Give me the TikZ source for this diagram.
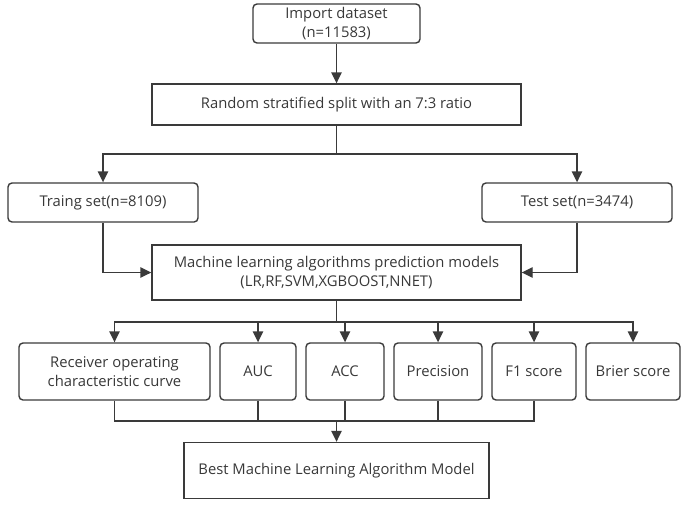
\documentclass[tikz,border=0pt]{standalone}
\usepackage{fontspec}
\setmainfont{Open Sans}
\usepackage{xcolor}
\usetikzlibrary{arrows.meta}
\usetikzlibrary{positioning}
\definecolor{LineGray}{HTML}{3A3A3A}
\definecolor{TextGray}{HTML}{383838}
\tikzset{
  rbox/.style={draw=LineGray,line width=1.4pt,rounded corners=4pt,
    inner sep=0pt,align=center,text=TextGray,
    font=\fontsize{14.8}{18.5}\selectfont},
  sbox/.style={rbox,rounded corners=0pt},
  link/.style={draw=LineGray,line width=1.4pt},
  arr/.style={link,-{Triangle[length=11pt,width=10.5pt]}}
}

\begin{document}
\begin{tikzpicture}[x=1pt,y=-1pt]
  \useasboundingbox (0,0) rectangle (685,507);

  % top part
  \node[rbox,minimum width=167pt,minimum height=39pt] (import) at (336.5,23.5)
    {Import dataset\\(n=11583)};
  \node[sbox,minimum width=369pt,minimum height=41pt] (split) at (336.5,104.5)
    {Random stratified split with an 7:3 ratio};
  \node[rbox,minimum width=190pt,minimum height=39pt] (train) at (103,202.5)
    {Traing set(n=8109)};
  \node[rbox,minimum width=190pt,minimum height=39pt] (test) at (577,202.5)
    {Test set(n=3474)};
  \node[sbox,minimum width=369pt,minimum height=55pt] (models) at (336.5,272.5)
    {Machine learning algorithms prediction models\\(LR,RF,SVM,XGBOOST,NNET)};

  % metrics
  \node[rbox,minimum width=191pt,minimum height=57pt] (roc) at (114.5,371.5)
    {Receiver operating\\characteristic curve};
  \node[rbox,minimum width=76pt,minimum height=57pt] (auc) at (258,371.5) {AUC};
  \node[rbox,minimum width=78pt,minimum height=57pt] (acc) at (345,371.5) {ACC};
  \node[rbox,minimum width=88pt,minimum height=57pt] (prec) at (438,371.5) {Precision};
  \node[rbox,minimum width=84pt,minimum height=57pt] (fone) at (534,371.5) {F1 score};
  \node[rbox,minimum width=94pt,minimum height=57pt] (brier) at (633,371.5) {Brier score};

  \node[sbox,minimum width=305pt,minimum height=56pt] (best) at (336.5,470.5)
    {Best Machine Learning Algorithm Model};

  % connectors
  \coordinate (splitbus) at (336.5,154);
  \coordinate (metricbus) at (336.5,322);
  \coordinate (bestbus) at (336.5,421);

  \draw[arr] (import) -- (split);
  \draw[link] (split) -- (splitbus);
  \draw[arr] (splitbus) -| (train);
  \draw[arr] (splitbus) -| (test);

  \draw[arr] (train) |- (models);
  \draw[arr] (test) |- (models);

  \draw[link] (models) -- (metricbus);
  \foreach \m in {roc,auc,acc,prec,fone,brier}{%
    \draw[arr] (metricbus) -| (\m);
  }

  \foreach \m in {roc,auc,acc,prec,fone}{%
    \draw[link] (\m) |- (bestbus);
  }
  \draw[arr] (bestbus) -- (best);
\end{tikzpicture}
\end{document}
